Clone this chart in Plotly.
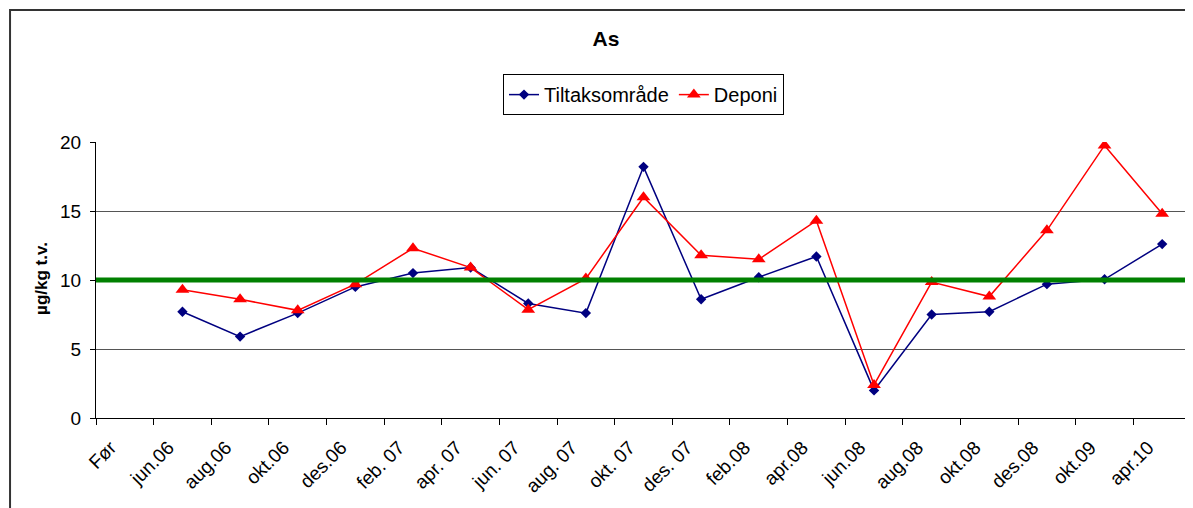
import plotly.graph_objects as go

categories = ["Før", "jun.06", "aug.06", "okt.06", "des.06", "feb. 07", "apr. 07",
              "jun. 07", "aug. 07", "okt. 07", "des. 07", "feb.08", "apr.08",
              "jun.08", "aug.08", "okt.08", "des.08", "okt.09", "apr.10"]
tiltak = [None, 7.7, 5.9, 7.6, 9.5, 10.5, 10.9, 8.3, 7.6, 18.2, 8.6, 10.2, 11.7,
          2.0, 7.5, 7.7, 9.7, 10.05, 12.6]
deponi = [None, 9.3, 8.6, 7.8, 9.7, 12.3, 10.9, 7.85, 10.1, 16.0, 11.8, 11.5, 14.3,
          2.4, 9.85, 8.8, 13.6, 19.75, 14.8]
limit_value = 10
y_ticks = [0, 5, 10, 15, 20]

font_family = "Liberation Sans, Arial, sans-serif"

fig = go.Figure()
fig.add_trace(go.Scatter(
    x=categories, y=tiltak, name="Tiltaksområde", mode="lines+markers",
    line=dict(color="#000080", width=1.5),
    marker=dict(symbol="diamond", size=8, color="#000080"),
))
fig.add_trace(go.Scatter(
    x=categories, y=deponi, name="Deponi", mode="lines+markers",
    line=dict(color="#FF0000", width=1.5),
    marker=dict(symbol="triangle-up", size=12, color="#FF0000"),
))

shapes = [
    dict(type="line", xref="paper", yref="y", x0=0, x1=1, y0=limit_value, y1=limit_value,
         line=dict(color="#008000", width=5), layer="above"),
    dict(type="rect", xref="paper", yref="paper", x0=-0.0785, x1=1.2, y0=-1.0, y1=1.478,
         line=dict(color="#333333", width=2), layer="below"),
]

fig.update_layout(
    width=1185, height=500,
    margin=dict(l=88, r=2, t=134, b=90),
    paper_bgcolor="white", plot_bgcolor="white",
    font=dict(family=font_family, color="black", size=18),
    title=dict(text="<b>As</b>", xref="container", x=0.5046, xanchor="center",
               yref="container", y=0.938, yanchor="middle",
               font=dict(size=21, family=font_family, color="black")),
    showlegend=True,
    legend=dict(orientation="h", x=0.5, xanchor="center", y=1.246, yanchor="top",
                bordercolor="black", borderwidth=1, bgcolor="white",
                font=dict(size=20, family=font_family), itemwidth=30,
                tracegroupgap=0),
    shapes=shapes,
    annotations=[dict(text="<b>µg/kg t.v.</b>", xref="paper", yref="paper",
                      x=-0.0493, y=0.504, textangle=-90, showarrow=False,
                      xanchor="center", yanchor="middle",
                      font=dict(size=17, family=font_family, color="black"))],
)

fig.update_xaxes(
    type="category", categoryorder="array", categoryarray=categories,
    range=[-0.5, len(categories) - 0.5],
    tickangle=-45, tickson="boundaries", ticks="outside", ticklen=6,
    tickcolor="black", showline=True, linecolor="black", linewidth=1,
    showgrid=False, tickfont=dict(size=19, family=font_family),
    ticklabelshift=-14, ticklabelstandoff=10,
)
fig.update_yaxes(
    range=[0, 20], tickvals=y_ticks, ticks="outside", ticklen=5, tickcolor="black",
    showline=True, linecolor="black", linewidth=1,
    showgrid=True, gridcolor="#555555", gridwidth=1, zeroline=False,
    tickfont=dict(size=19, family=font_family), ticklabelstandoff=5,
)

fig.write_html("out.html")
